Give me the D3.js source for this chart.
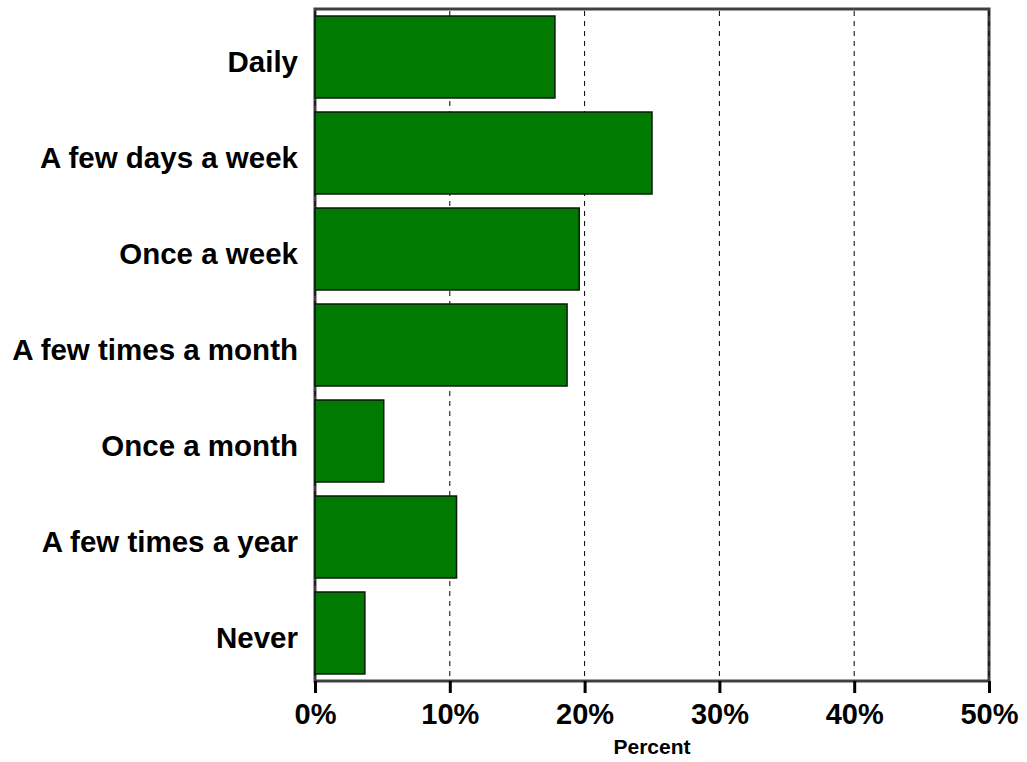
<!DOCTYPE html>
<html>
<head>
<meta charset="utf-8">
<script src="https://cdn.jsdelivr.net/npm/d3@7"></script>
<style>
  html, body { margin: 0; padding: 0; background: #fff; }
  text { font-family: "Liberation Sans", Arial, sans-serif; font-weight: bold; fill: #000; }
</style>
</head>
<body>
<svg id="chart" width="1027" height="762"></svg>
<script>
const categories = ["Daily", "A few days a week", "Once a week", "A few times a month", "Once a month", "A few times a year", "Never"];
const values = [17.8, 25.0, 19.6, 18.7, 5.1, 10.5, 3.7];
const tickValues = [0, 10, 20, 30, 40, 50];
const axisTitle = "Percent";

const svg = d3.select("#chart");
const plotLeft = 315, plotRight = 989, plotTop = 9, plotBottom = 681;

const x = d3.scaleLinear().domain([0, 50]).range([plotLeft, plotRight]);
const y = d3.scaleBand().domain(categories).range([plotTop, plotBottom])
  .paddingInner(0.146).paddingOuter(0.073);

// frame
svg.append("rect")
  .attr("x", plotLeft).attr("y", plotTop)
  .attr("width", plotRight - plotLeft).attr("height", plotBottom - plotTop)
  .attr("fill", "none").attr("stroke", "#404040").attr("stroke-width", 3);

// grid lines
svg.append("g").selectAll("line").data(tickValues).join("line")
  .attr("x1", d => x(d)).attr("x2", d => x(d))
  .attr("y1", plotTop + 2).attr("y2", plotBottom - 2)
  .attr("stroke", "#000").attr("stroke-width", 1)
  .attr("stroke-dasharray", "5,5");

// bars
svg.append("g").selectAll("rect").data(categories).join("rect")
  .attr("x", x(0))
  .attr("y", d => y(d))
  .attr("width", (d, i) => x(values[i]) - x(0))
  .attr("height", y.bandwidth())
  .attr("fill", "#007A00")
  .attr("stroke", "#0a1a0a").attr("stroke-width", 1.5);

// x axis
const xAxis = d3.axisBottom(x).tickValues(tickValues)
  .tickFormat(d => d + "%").tickSize(12).tickPadding(10);
const gx = svg.append("g").attr("transform", `translate(0,${plotBottom})`).call(xAxis);
gx.select(".domain").remove();
gx.selectAll(".tick line").attr("stroke", "#000").attr("stroke-width", 3);
gx.selectAll(".tick text")
  .style("font-size", "29px")
  .style("font-family", '"Liberation Sans", Arial, sans-serif')
  .style("font-weight", "bold")
  .attr("fill", "#000");

// y axis labels
const yAxis = d3.axisLeft(y).tickSize(0).tickPadding(17);
const gy = svg.append("g").attr("transform", `translate(${plotLeft},0)`).call(yAxis);
gy.select(".domain").remove();
gy.selectAll(".tick text")
  .attr("dy", "0.5em")
  .style("font-size", "29.5px")
  .style("font-family", '"Liberation Sans", Arial, sans-serif')
  .style("font-weight", "bold")
  .attr("fill", "#000");

// axis title
svg.append("text")
  .attr("x", (plotLeft + plotRight) / 2).attr("y", 754)
  .attr("text-anchor", "middle")
  .style("font-size", "21px")
  .text(axisTitle);
</script>
</body>
</html>
